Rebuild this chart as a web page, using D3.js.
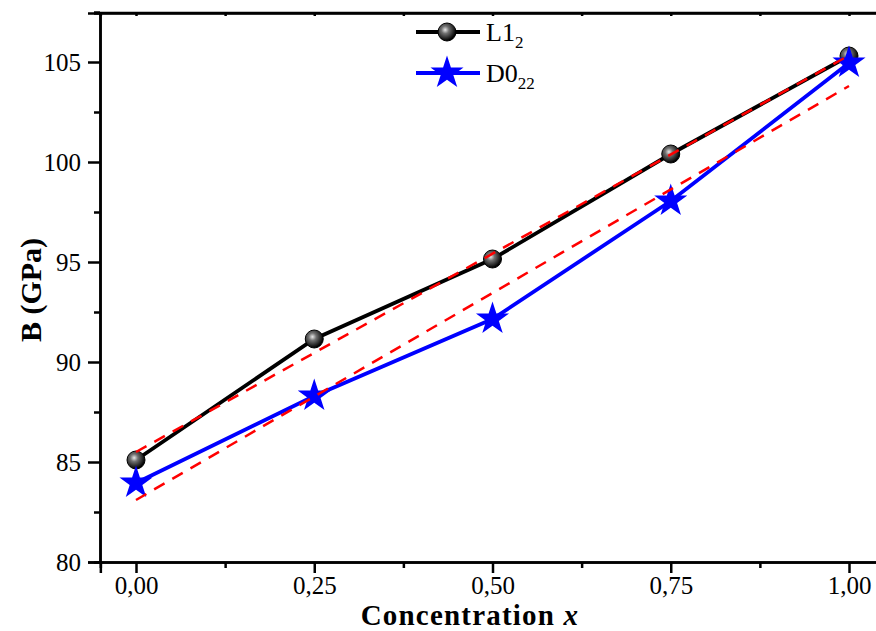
<!DOCTYPE html>
<html><head><meta charset="utf-8">
<script src="https://cdn.jsdelivr.net/npm/d3@7"></script>
<style>body{margin:0;background:#fff}svg{display:block}</style>
</head><body>
<script>
const xValues = [0, 0.25, 0.5, 0.75, 1.0];
const xTickLabels = ["0,00", "0,25", "0,50", "0,75", "1,00"];
const yTicks = [80, 85, 90, 95, 100, 105];
const seriesL12 = [85.1, 91.15, 95.15, 100.4, 105.3];
const seriesD022 = [83.95, 88.3, 92.15, 98.05, 104.95];
const fitX = [0, 1];
const fitL12 = [85.5, 105.33];
const fitD022 = [83.1, 103.8];

const W = 876, H = 631;
const svg = d3.select("body").append("svg").attr("width", W).attr("height", H);
const x = d3.scaleLinear().domain([-0.05, 1.05]).range([100.35, 884.65]);
const y = d3.scaleLinear().domain([80, 107.45]).range([562, 13]);
const font = "'Liberation Serif','Times New Roman',serif";

const defs = svg.append("defs");
const grad = defs.append("radialGradient").attr("id", "sph").attr("cx", "0.4").attr("cy", "0.38").attr("r", "0.6");
grad.append("stop").attr("offset", "0").attr("stop-color", "#e8e8e8");
grad.append("stop").attr("offset", "0.35").attr("stop-color", "#707070");
grad.append("stop").attr("offset", "1").attr("stop-color", "#000");

// axes
const xAxis = d3.axisBottom(x).tickValues(xValues).tickSize(11).tickPadding(3).tickFormat((d, i) => xTickLabels[i]);
const gx = svg.append("g").attr("font-family", font).attr("transform", "translate(0,562)").call(xAxis);
const yAxis = d3.axisLeft(y).tickValues(yTicks).tickSize(12).tickPadding(7).tickFormat(d3.format("d"));
const gy = svg.append("g").attr("font-family", font).attr("transform", "translate(100,0)").call(yAxis);
const xMinor = [0.125, 0.375, 0.625, 0.875];
svg.append("g").attr("transform", "translate(0,562)").call(d3.axisBottom(x).tickValues(xMinor).tickSize(6).tickFormat(""));
const yMinor = [82.5, 87.5, 92.5, 97.5, 102.5, 107.5];
svg.append("g").attr("transform", "translate(100,0)").call(d3.axisLeft(y).tickValues(yMinor).tickSize(6).tickFormat(""));
svg.append("g").attr("transform", "translate(0,13)").call(d3.axisTop(x).tickValues(xValues.concat(xMinor)).tickSize(-3).tickFormat(""));

svg.selectAll(".domain").attr("stroke", "#000").attr("stroke-width", 2.5);
svg.selectAll(".tick line").attr("stroke", "#000").attr("stroke-width", 2.5);
svg.selectAll(".tick text").attr("font-family", font).attr("font-size", 25).attr("fill", "#000");
svg.append("line").attr("x1", 100).attr("x2", W).attr("y1", 13).attr("y2", 13).attr("stroke", "#000").attr("stroke-width", 2.5);

// series lines
const line = d3.line().x((d, i) => x(xValues[i])).y(d => y(d));
svg.append("path").datum(seriesL12).attr("d", line).attr("fill", "none").attr("stroke", "#000").attr("stroke-width", 3.8);
svg.append("path").datum(seriesD022).attr("d", line).attr("fill", "none").attr("stroke", "#0000ff").attr("stroke-width", 3.8);

const star = d3.symbol().type(d3.symbolStar).size(340);
function sphere(g, cx, cy) {
  g.append("circle").attr("cx", cx).attr("cy", cy).attr("r", 9).attr("fill", "url(#sph)").attr("stroke", "#000").attr("stroke-width", 1);
}
function starAt(g, cx, cy) {
  g.append("path").attr("d", star).attr("transform", `translate(${cx},${cy})`).attr("fill", "#0000ff");
}
seriesL12.forEach((v, i) => sphere(svg, x(xValues[i]), y(v)));
seriesD022.forEach((v, i) => starAt(svg, x(xValues[i]), y(v)));

// linear fits on top
[fitL12, fitD022].forEach(f => {
  svg.append("path").datum(fitX.map((v, i) => [v, f[i]]))
    .attr("d", d3.line().x(d => x(d[0])).y(d => y(d[1])))
    .attr("fill", "none").attr("stroke", "#ff0000").attr("stroke-width", 2.5).attr("stroke-dasharray", "12,9");
});

// legend
const lg = svg.append("g");
lg.append("line").attr("x1", 416).attr("x2", 480).attr("y1", 32).attr("y2", 32).attr("stroke", "#000").attr("stroke-width", 3.8);
sphere(lg, 447, 32);
lg.append("line").attr("x1", 416).attr("x2", 480).attr("y1", 73).attr("y2", 73).attr("stroke", "#0000ff").attr("stroke-width", 3.8);
starAt(lg, 447, 73);
const t1 = lg.append("text").attr("x", 486).attr("y", 41).attr("font-family", font).attr("font-size", 26);
t1.append("tspan").text("L1");
t1.append("tspan").attr("font-size", 17).attr("dy", 7).text("2");
const t2 = lg.append("text").attr("x", 486).attr("y", 82).attr("font-family", font).attr("font-size", 26);
t2.append("tspan").text("D0");
t2.append("tspan").attr("font-size", 17).attr("dy", 7).text("22");

// axis titles
const xt = svg.append("text").attr("x", 470).attr("y", 625).attr("text-anchor", "middle")
  .attr("font-family", font).attr("font-size", 29).attr("font-weight", "bold").attr("letter-spacing", 1.2);
xt.append("tspan").text("Concentration ");
xt.append("tspan").attr("font-style", "italic").text("x");
svg.append("text").attr("transform", "translate(41,290) rotate(-90)").attr("text-anchor", "middle")
  .attr("font-family", font).attr("font-size", 30).attr("font-weight", "bold").text("B (GPa)");
</script>
</body></html>
